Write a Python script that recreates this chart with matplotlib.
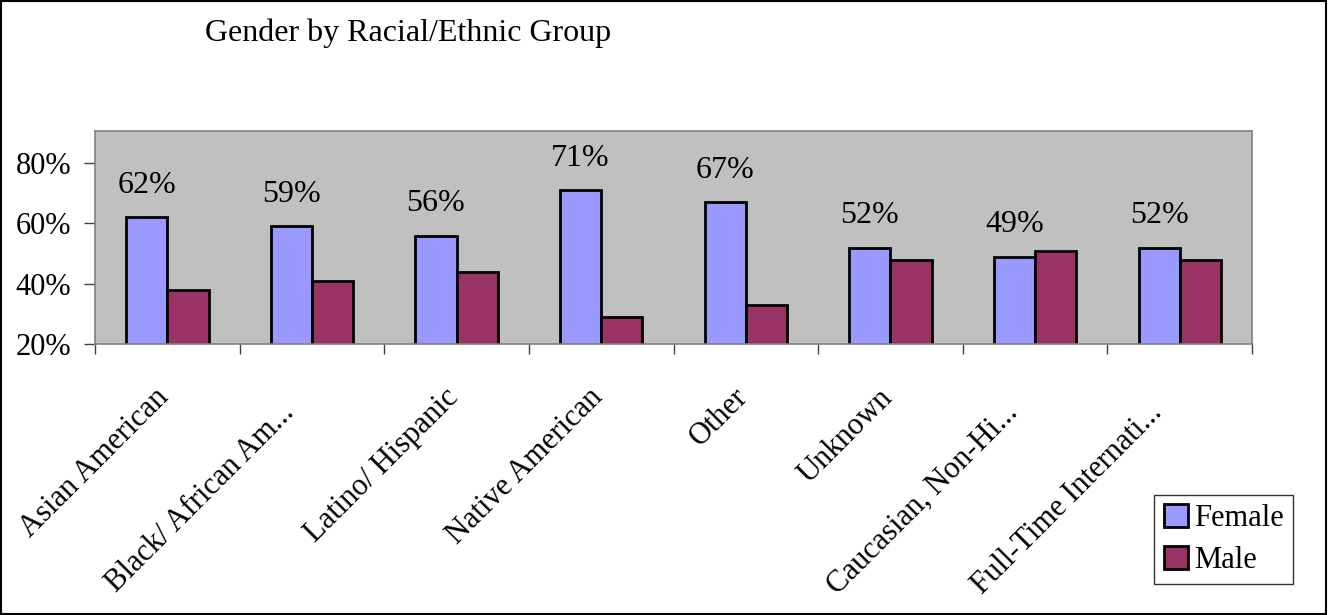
import numpy as np
import matplotlib.pyplot as plt
from matplotlib.patches import Rectangle

categories = ["Asian American", "Black/ African Am...", "Latino/ Hispanic", "Native American",
              "Other", "Unknown", "Caucasian, Non-Hi...", "Full-Time Internati..."]
female = [62, 59, 56, 71, 67, 52, 49, 52]
male = [38, 41, 44, 29, 33, 48, 51, 48]
yticks = [20, 40, 60, 80]

plt.rcParams['font.family'] = ['Liberation Serif', 'DejaVu Serif']

fig = plt.figure(figsize=(13.29, 6.15), dpi=100)
ax = fig.add_axes([0.0715, 0.4407, 0.8706, 0.3463])
ax.set_facecolor('#C0C0C0')

x = np.arange(len(categories))
w = 0.285
ax.bar(x - w / 2, female, w, bottom=0, color='#9999FF', edgecolor='black', linewidth=2, label='Female')
ax.bar(x + w / 2, male, w, bottom=0, color='#993366', edgecolor='black', linewidth=2, label='Male')

for xi, v in zip(x, female):
    ax.annotate(f"{v}%", (xi - w / 2, v), xytext=(0, 23), textcoords='offset points',
                ha='center', va='center', fontsize=23)

ax.set_xlim(-0.5, len(categories) - 0.5)
ax.set_ylim(20, 90.7)
ax.set_yticks(yticks)
ax.set_yticklabels([f"{t}%" for t in yticks], fontsize=22)
ax.set_xticks(np.arange(len(categories) + 1) - 0.5)
ax.set_xticklabels([])
ax.tick_params(axis='y', length=8, width=1, color='#404040', pad=9)
ax.tick_params(axis='x', length=7, width=1, color='#404040')
for s in ax.spines.values():
    s.set_color('#808080')
    s.set_linewidth(1.2)

# category labels, rotated 45 deg, truncated ones sit a bit further back
for xi, c in zip(x, categories):
    off = (-32, -54) if c.endswith('...') else (-13, -39)
    ax.annotate(c, (xi, 20), xytext=off, textcoords='offset pixels', rotation=45,
                rotation_mode='anchor', ha='right', va='top', fontsize=22, annotation_clip=False)

fig.text(205 / 1329, 1 - 33 / 615, "Gender by Racial/Ethnic Group", fontsize=23, ha='left', va='center')

fig.legend(loc='lower right', bbox_to_anchor=(1293 / 1329, 1 - 584 / 615), fontsize=22,
           frameon=True, fancybox=False, edgecolor='black', handlelength=0.8, handleheight=0.8,
           handletextpad=0.2, borderpad=0.3, labelspacing=0.4, borderaxespad=0)

fig.add_artist(Rectangle((0.001, 0.002), 0.997, 0.996, transform=fig.transFigure, fill=False,
                         edgecolor='black', linewidth=1.5))

fig.savefig('out.png', dpi=100)
